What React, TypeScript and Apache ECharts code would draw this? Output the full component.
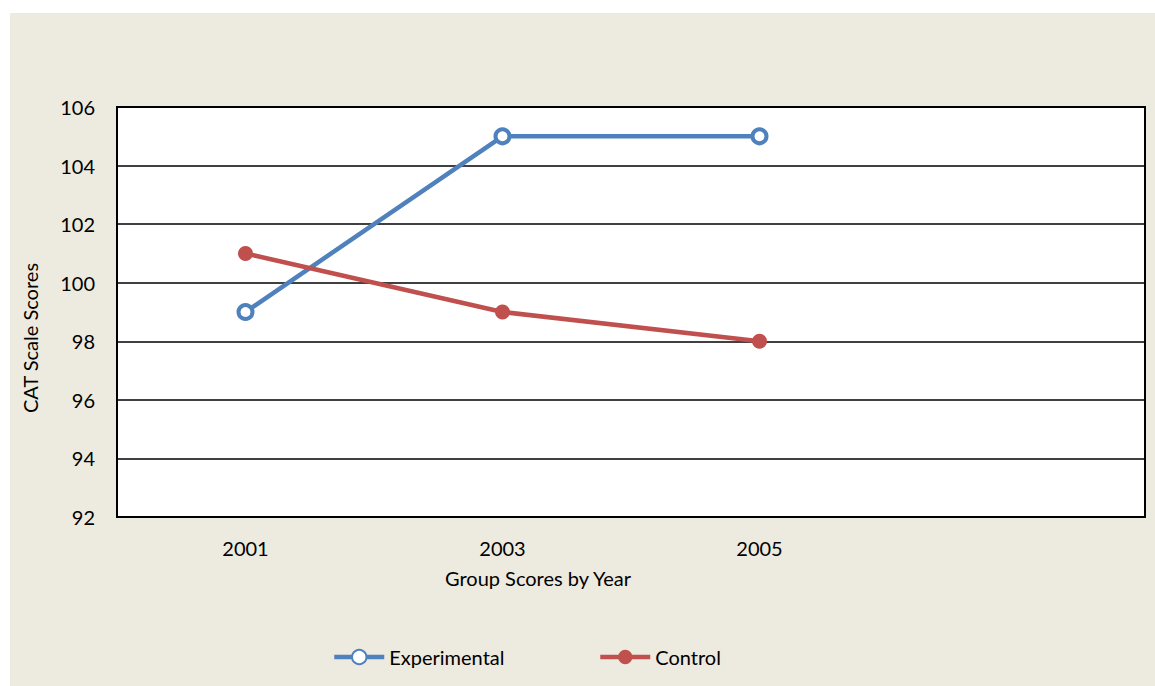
import React, { useEffect, useRef } from "react";
import * as echarts from "echarts";

const years = ["2001", "2003", "2005", ""];
const experimental = [99, 105, 105, null];
const control = [101, 99, 98, null];
const yMin = 92;
const yMax = 106;
const yStep = 2;

const FONT = "Lato, 'Open Sans', sans-serif";
const BLUE = "#4F81BD";
const RED = "#C0504D";

const legendBase = {
  bottom: 19,
  padding: 0,
  itemWidth: 50,
  itemHeight: 18,
  lineStyle: { width: 4.5 },
  textStyle: { color: "#000", fontSize: 20, fontFamily: FONT },
};

export default function App() {
  const ref = useRef<HTMLDivElement>(null);

  useEffect(() => {
    if (!ref.current) return;
    const chart = echarts.init(ref.current, null, { renderer: "svg" });
    chart.setOption({
      animation: false,
      backgroundColor: "#EDEADF",
      textStyle: { fontFamily: FONT },
      grid: {
        left: 107,
        top: 94,
        width: 1028,
        height: 410,
        show: true,
        backgroundColor: "#FFFFFF",
        borderColor: "#000000",
        borderWidth: 2,
        containLabel: false,
      },
      xAxis: {
        type: "category",
        data: years,
        boundaryGap: true,
        axisLine: { show: true, lineStyle: { color: "#000", width: 2 } },
        axisTick: { show: false },
        axisLabel: { color: "#000", fontSize: 20, margin: 21, fontFamily: FONT },
        splitLine: { show: false },
      },
      yAxis: {
        type: "value",
        min: yMin,
        max: yMax,
        interval: yStep,
        axisLine: { show: true, lineStyle: { color: "#000", width: 2 } },
        axisTick: { show: false },
        axisLabel: { color: "#000", fontSize: 20, margin: 22, fontFamily: FONT },
        splitLine: { show: true, lineStyle: { color: "#000", width: 1.5 } },
      },
      legend: [
        { ...legendBase, left: 322, data: ["Experimental"] },
        { ...legendBase, left: 588, data: ["Control"] },
      ],
      graphic: [
        {
          type: "text",
          x: 528,
          y: 565,
          style: {
            text: "Group Scores by Year",
            font: `20px ${FONT}`,
            fill: "#000",
            textAlign: "center",
            textVerticalAlign: "middle",
          },
        },
        {
          type: "text",
          x: 20,
          y: 325,
          rotation: Math.PI / 2,
          style: {
            text: "CAT Scale Scores",
            font: `20px ${FONT}`,
            fill: "#000",
            textAlign: "center",
            textVerticalAlign: "middle",
          },
        },
      ],
      series: [
        {
          name: "Experimental",
          type: "line",
          data: experimental,
          symbol: "circle",
          symbolSize: 14,
          showAllSymbol: true,
          lineStyle: { color: BLUE, width: 4.5 },
          itemStyle: { color: "#FFFFFF", borderColor: BLUE, borderWidth: 4 },
        },
        {
          name: "Control",
          type: "line",
          data: control,
          symbol: "circle",
          symbolSize: 15,
          showAllSymbol: true,
          lineStyle: { color: RED, width: 4.5 },
          itemStyle: { color: RED, borderColor: RED, borderWidth: 0 },
        },
      ],
    });
    return () => chart.dispose();
  }, []);

  return (
    <div
      style={{
        position: "fixed",
        left: 0,
        top: 0,
        width: 1155,
        height: 686,
        background: "#FFFFFF",
      }}
    >
      <div
        ref={ref}
        style={{ position: "absolute", left: 10, top: 13, width: 1145, height: 673 }}
      />
    </div>
  );
}
